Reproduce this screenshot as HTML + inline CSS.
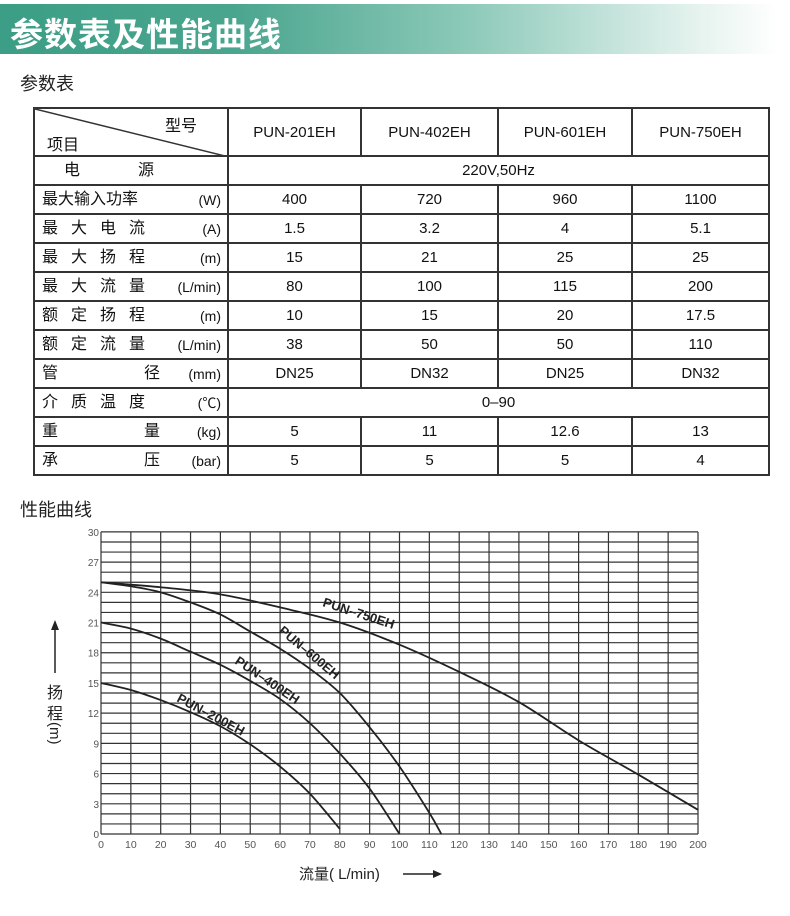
<!DOCTYPE html>
<html><head><meta charset="utf-8"><style>
*{margin:0;padding:0;box-sizing:border-box}
body{width:790px;height:916px;background:#fff;position:relative;overflow:hidden;font-family:"Liberation Sans","Noto Sans CJK SC",sans-serif;color:#222}
.bar{position:absolute;left:0;top:4px;width:778px;height:50px;background:linear-gradient(90deg,#3c9e86 0%,#4aa58e 30%,#8cc9b8 60%,#e6f3ef 90%,#fff 100%)}
.bar span{position:absolute;left:10px;top:4px;font-size:33px;font-weight:bold;color:#fff;letter-spacing:1px}
.h2{position:absolute;left:20px;font-size:18px;color:#222}
table{position:absolute;left:33px;top:107px;border-collapse:collapse;font-size:15px;color:#111}
td{border:2px solid #333;text-align:center;height:29px;padding:0}
td.l{text-align:left;padding-left:7px;position:relative;font-size:16px;line-height:20px}
td.l b{font-weight:normal;position:absolute;right:6px;top:6px;font-size:14px;line-height:16px}
.ls{letter-spacing:13px}
</style></head><body>
<div class="bar"><span>参数表及性能曲线</span></div>
<div class="h2" style="top:70px">参数表</div>
<table>
<tr style="height:48px"><td style="width:194px;position:relative;height:48px">
<svg width="194" height="48" style="position:absolute;left:0;top:0"><line x1="0" y1="0" x2="194" y2="48" stroke="#333" stroke-width="1.5"/></svg>
<span style="position:absolute;left:12px;top:22px;font-size:16px">项目</span><span style="position:absolute;left:130px;top:3px;font-size:16px">型号</span></td>
<td style="width:133px">PUN-201EH</td><td style="width:137px">PUN-402EH</td><td style="width:134px">PUN-601EH</td><td style="width:137px">PUN-750EH</td></tr>
<tr><td class="l"><span style="margin-left:22px">电</span><span style="margin-left:58px">源</span></td><td colspan="4">220V,50Hz</td></tr>
<tr><td class="l">最大输入功率<b>(W)</b></td><td>400</td><td>720</td><td>960</td><td>1100</td></tr>
<tr><td class="l"><span class="ls">最大电流</span><b>(A)</b></td><td>1.5</td><td>3.2</td><td>4</td><td>5.1</td></tr>
<tr><td class="l"><span class="ls">最大扬程</span><b>(m)</b></td><td>15</td><td>21</td><td>25</td><td>25</td></tr>
<tr><td class="l"><span class="ls">最大流量</span><b>(L/min)</b></td><td>80</td><td>100</td><td>115</td><td>200</td></tr>
<tr><td class="l"><span class="ls">额定扬程</span><b>(m)</b></td><td>10</td><td>15</td><td>20</td><td>17.5</td></tr>
<tr><td class="l"><span class="ls">额定流量</span><b>(L/min)</b></td><td>38</td><td>50</td><td>50</td><td>110</td></tr>
<tr><td class="l">管<span style="margin-left:86px">径</span><b>(mm)</b></td><td>DN25</td><td>DN32</td><td>DN25</td><td>DN32</td></tr>
<tr><td class="l"><span class="ls">介质温度</span><b>(℃)</b></td><td colspan="4">0–90</td></tr>
<tr><td class="l">重<span style="margin-left:86px">量</span><b>(kg)</b></td><td>5</td><td>11</td><td>12.6</td><td>13</td></tr>
<tr><td class="l">承<span style="margin-left:86px">压</span><b>(bar)</b></td><td>5</td><td>5</td><td>5</td><td>4</td></tr>
</table>
<div class="h2" style="top:496px">性能曲线</div>
<svg id="c" width="790" height="916" style="position:absolute;left:0;top:0" font-family="Liberation Sans, sans-serif">
<g id="grid" stroke="#333" stroke-width="1.2"></g>
<g id="ylab" font-size="10" fill="#555" text-anchor="end"></g>
<g id="xlab" font-size="10.5" fill="#555" text-anchor="middle"></g>
<g id="curves" fill="none" stroke="#222" stroke-width="1.8"></g>
<g font-size="13" font-weight="bold" fill="#222">
<text transform="translate(322,606) rotate(18)">PUN–750EH</text>
<text transform="translate(278,632) rotate(40)">PUN–600EH</text>
<text transform="translate(234,663) rotate(34)">PUN–400EH</text>
<text transform="translate(176,701) rotate(28)">PUN–200EH</text>
</g>
<line x1="55" y1="673" x2="55" y2="628" stroke="#222" stroke-width="1.5"/><polygon points="51,630 59,630 55,620" fill="#222"/>
<text x="47" y="698" font-size="16" fill="#222" font-family="Noto Sans CJK SC, sans-serif">扬</text>
<text x="47" y="719" font-size="16" fill="#222" font-family="Noto Sans CJK SC, sans-serif">程</text>
<text transform="translate(50,722) rotate(90)" font-size="15" fill="#222">(m)</text>
<text x="299" y="879" font-size="15" fill="#222" font-family="Liberation Sans, Noto Sans CJK SC, sans-serif">流量( L/min)</text>
<line x1="403" y1="874" x2="434" y2="874" stroke="#222" stroke-width="1.5"/><polygon points="433,870 433,878 442,874" fill="#222"/>
</svg>
<script>
var X=q=>101+2.985*q, Y=h=>834-10.07*h, ns="http://www.w3.org/2000/svg";
function el(p,t,a,txt){var e=document.createElementNS(ns,t);for(var k in a)e.setAttribute(k,a[k]);if(txt!=null)e.textContent=txt;document.getElementById(p).appendChild(e);}
for(var h=0;h<=30;h++)el("grid","line",{x1:X(0),x2:X(200),y1:Y(h),y2:Y(h)});
for(var q=0;q<=200;q+=10)el("grid","line",{x1:X(q),x2:X(q),y1:Y(0),y2:Y(30)});
for(var h=0;h<=30;h+=3)el("ylab","text",{x:99,y:Y(h)+4},h);
for(var q=0;q<=200;q+=10)el("xlab","text",{x:X(q),y:848},q);
var C=[
[[0,25],[20,24.5],[40,23.8],[60,22.5],[80,21],[100,18.8],[120,16.1],[140,13.1],[160,9.3],[180,5.9],[200,2.4]],
[[0,25],[10,24.6],[20,24],[30,23],[40,21.8],[50,20.1],[60,18.4],[70,16.4],[80,14],[90,10.6],[100,6.7],[110,2.1],[114,0]],
[[0,21],[10,20.4],[20,19.4],[30,18.1],[40,16.8],[50,15.2],[60,13.4],[70,11],[80,8],[90,4.5],[100,0]],
[[0,15],[10,14.3],[20,13.3],[30,12.1],[40,10.7],[50,8.9],[60,6.7],[70,4],[80,0.5]]];
C.forEach(function(c){var p=c.map(v=>[X(v[0]),Y(v[1])]);var d="M"+p[0];for(var i=0;i<p.length-1;i++){var a=p[i-1]||p[i],b=p[i],cc=p[i+1],e=p[i+2]||cc;
d+=" C"+(b[0]+(cc[0]-a[0])/6)+","+(b[1]+(cc[1]-a[1])/6)+" "+(cc[0]-(e[0]-b[0])/6)+","+(cc[1]-(e[1]-b[1])/6)+" "+cc;}
el("curves","path",{d:d});});
</script>
</body></html>
